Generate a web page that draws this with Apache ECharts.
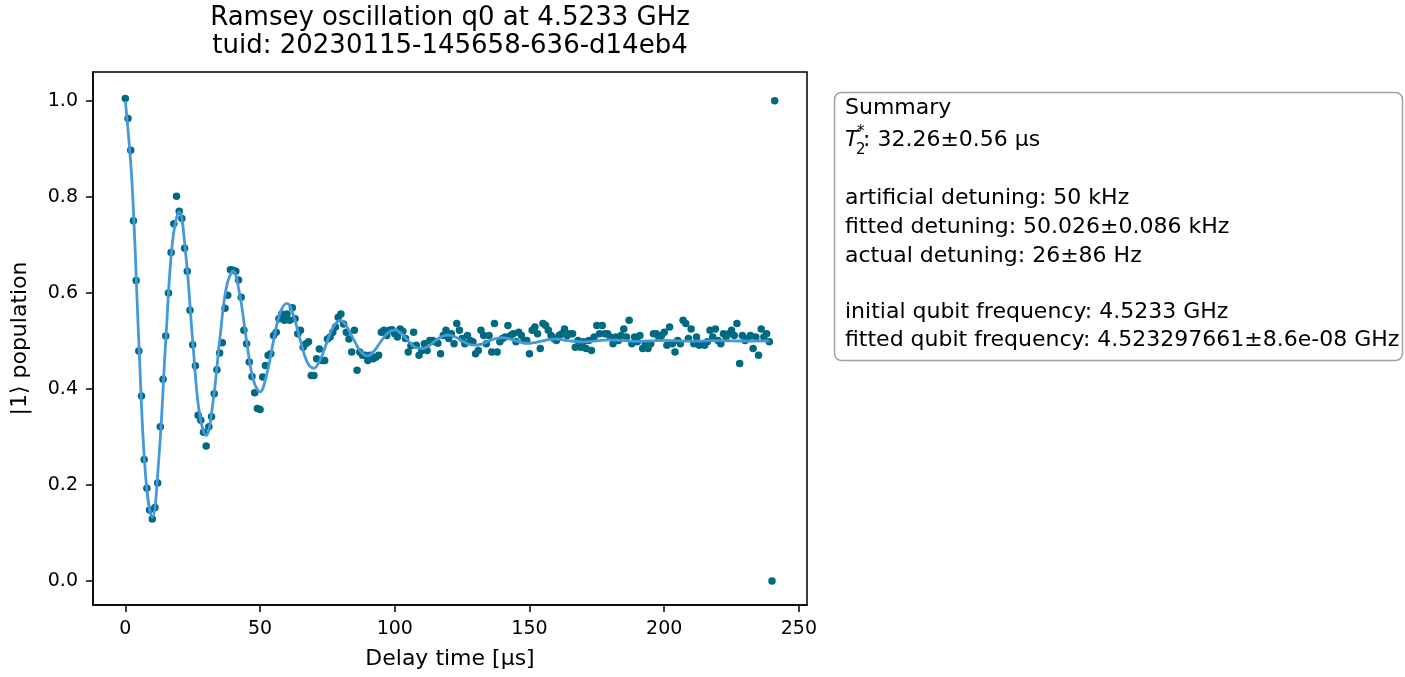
<!DOCTYPE html>
<html>
<head>
<meta charset="utf-8">
<script src="https://cdn.jsdelivr.net/npm/echarts@6/dist/echarts.min.js"></script>
<style>
html,body{margin:0;padding:0;background:#fff;}
#chart{width:1405px;height:677px;}
</style>
</head>
<body>
<div id="chart"></div>
<script>
// ---- data ----
const population = [
1.005,0.963,0.897,0.750,0.626,0.479,0.385,0.253,0.193,0.148,
0.129,0.153,0.204,0.321,0.420,0.510,0.600,0.684,0.744,0.801,
0.770,0.755,0.693,0.645,0.564,0.492,0.448,0.345,0.335,0.310,
0.281,0.321,0.342,0.390,0.440,0.475,0.496,0.568,0.595,0.648,
0.647,0.645,0.627,0.591,0.522,0.494,0.456,0.426,0.392,0.359,
0.357,0.425,0.449,0.470,0.473,0.511,0.518,0.546,0.556,0.543,
0.556,0.543,0.569,0.546,0.515,0.522,0.487,0.494,0.498,0.428,
0.428,0.463,0.483,0.459,0.459,0.504,0.508,0.518,0.529,0.549,
0.556,0.535,0.518,0.504,0.477,0.522,0.439,0.477,0.470,0.470,
0.459,0.470,0.463,0.466,0.470,0.518,0.522,0.511,0.522,0.523,
0.515,0.508,0.525,0.520,0.505,0.477,0.490,0.518,0.491,0.470,
0.480,0.494,0.480,0.501,0.501,0.498,0.495,0.473,0.511,0.522,
0.505,0.515,0.494,0.536,0.522,0.505,0.494,0.511,0.501,0.498,
0.473,0.480,0.522,0.511,0.494,0.511,0.477,0.536,0.477,0.498,
0.505,0.508,0.532,0.511,0.515,0.498,0.518,0.511,0.501,0.501,
0.473,0.522,0.529,0.515,0.484,0.536,0.532,0.522,0.511,0.505,
0.501,0.511,0.515,0.525,0.511,0.515,0.515,0.487,0.501,0.487,
0.498,0.484,0.501,0.480,0.508,0.532,0.515,0.532,0.515,0.515,
0.508,0.494,0.508,0.501,0.511,0.525,0.508,0.543,0.494,0.508,
0.498,0.511,0.484,0.494,0.484,0.494,0.515,0.515,0.508,0.511,
0.518,0.491,0.529,0.494,0.477,0.501,0.494,0.543,0.536,0.505,
0.525,0.494,0.508,0.491,0.494,0.491,0.498,0.522,0.508,0.525,
0.501,0.494,0.515,0.508,0.515,0.522,0.511,0.536,0.453,0.511,
0.501,0.505,0.511,0.484,0.508,0.470,0.525,0.508,0.515,0.498
];
const delayStart = 0;      // µs
const delayStep = 1;       // µs
const calTimes = [240, 241];
const calValues = [0.0, 1.0];

const fitTimes = [0,2.5,5,7.5,10,12.5,15,17.5,20,22.5,25,27.5,30,32.5,35,37.5,40,42.5,45,47.5,
  50,52.5,55,57.5,60,62.5,65,67.5,70,72.5,75,77.5,80,82.5,85,87.5,90,92.5,95,97.5,
  100,102.5,105,107.5,110,112.5,115,117.5,120,122.5,125,127.5,130,132.5,135,137.5,140,142.5,145,147.5,
  150,152.5,155,157.5,160,162.5,165,170,180,190,200,210,220,230,239];
const fitValues = [1.000,0.827,0.500,0.220,0.133,0.260,0.500,0.706,0.769,0.676,0.500,0.349,0.303,0.371,0.500,0.611,0.645,0.595,0.500,0.419,
  0.394,0.431,0.500,0.559,0.578,0.551,0.500,0.456,0.443,0.463,0.500,0.532,0.542,0.527,0.500,0.477,0.469,0.480,0.500,0.517,
  0.523,0.515,0.500,0.487,0.484,0.489,0.500,0.509,0.512,0.508,0.500,0.493,0.491,0.494,0.500,0.505,0.507,0.504,0.500,0.496,
  0.495,0.497,0.500,0.503,0.504,0.502,0.500,0.498,0.502,0.499,0.501,0.4995,0.5005,0.4998,0.500];

const xTicks = [0, 50, 100, 150, 200, 250];
const yTicks = [0.0, 0.2, 0.4, 0.6, 0.8, 1.0];

const titleLines = ['Ramsey oscillation q0 at 4.5233 GHz', 'tuid: 20230115-145658-636-d14eb4'];
const summaryLines = [
  'Summary',
  '',
  '',
  'artificial detuning: 50 kHz',
  'fitted detuning: 50.026±0.086 kHz',
  'actual detuning: 26±86 Hz',
  '',
  'initial qubit frequency: 4.5233 GHz',
  'fitted qubit frequency: 4.523297661±8.6e-08 GHz'
];
const t2Text = ': 32.26±0.56 µs';

// ---- build ----
const FONT = '"DejaVu Sans", sans-serif';
const ptColor = '#006a80';
const fitColor = '#4598da';

const scatterData = population.map((v, i) => [delayStart + i * delayStep, v]);
const calData = calTimes.map((t, i) => [t, calValues[i]]);
const fitData = fitTimes.map((t, i) => [t, fitValues[i]]);

const summaryY = [108, 140, 169, 198, 227, 256, 284, 312, 340];
const graphics = [];
titleLines.forEach((s, i) => {
  graphics.push({type:'text', x:450, y: 18 + i*28, style:{text:s, fontSize:26, fontFamily:FONT, fill:'#000', align:'center', verticalAlign:'middle'}});
});
graphics.push({type:'rect', shape:{x:834.5, y:92.5, width:568, height:268, r:7}, style:{fill:'#fff', stroke:'#a0a0a0', lineWidth:1.5}});
summaryLines.forEach((s, i) => {
  if (!s) return;
  graphics.push({type:'text', x:845, y:summaryY[i], style:{text:s, fontSize:22, fontFamily:FONT, fill:'#000', align:'left', verticalAlign:'middle'}});
});
graphics.push({type:'text', x:845, y:140, style:{text:'T', fontSize:22, fontStyle:'italic', fontFamily:FONT, fill:'#000', align:'left', verticalAlign:'middle'}});
graphics.push({type:'text', x:856, y:150, style:{text:'2', fontSize:15, fontFamily:FONT, fill:'#000', align:'left', verticalAlign:'middle'}});
graphics.push({type:'text', x:857, y:132, style:{text:'*', fontSize:15, fontFamily:FONT, fill:'#000', align:'left', verticalAlign:'middle'}});
graphics.push({type:'text', x:863, y:140, style:{text:t2Text, fontSize:22, fontFamily:FONT, fill:'#000', align:'left', verticalAlign:'middle'}});

const chart = echarts.init(document.getElementById('chart'), null, {renderer:'canvas'});
chart.setOption({
  animation: false,
  backgroundColor: '#fff',
  grid: {left:93, top:72, right:598, bottom:72, show:true, borderColor:'#000', borderWidth:1.5, backgroundColor:'transparent'},
  xAxis: {
    type:'value', min:-12, max:253,
    name:'Delay time [µs]', nameLocation:'middle', nameGap:43,
    nameTextStyle:{fontSize:22, fontFamily:FONT, color:'#000'},
    axisLine:{show:true, onZero:false, lineStyle:{color:'#000', width:1.5}},
    axisTick:{show:true, length:7, inside:false, customValues:xTicks, lineStyle:{color:'#000', width:1.5}},
    axisLabel:{show:true, margin:15, customValues:xTicks, fontSize:19, fontFamily:FONT, color:'#000', formatter:v=>String(v)},
    splitLine:{show:false}
  },
  yAxis: {
    type:'value', min:-0.05, max:1.06,
    name:'|1⟩ population', nameLocation:'middle', nameGap:62, nameRotate:90,
    nameTextStyle:{fontSize:22, fontFamily:FONT, color:'#000'},
    axisLine:{show:true, onZero:false, lineStyle:{color:'#000', width:1.5}},
    axisTick:{show:true, length:7, inside:false, customValues:yTicks, lineStyle:{color:'#000', width:1.5}},
    axisLabel:{show:true, margin:15, customValues:yTicks, fontSize:19, fontFamily:FONT, color:'#000', formatter:v=>v.toFixed(1)},
    splitLine:{show:false}
  },
  series: [
    {type:'scatter', data:scatterData, symbol:'circle', symbolSize:7.5, itemStyle:{color:ptColor, opacity:1}, z:2},
    {type:'scatter', data:calData, symbol:'circle', symbolSize:7.5, itemStyle:{color:ptColor, opacity:1}, z:2},
    {type:'line', data:fitData, smooth:0.4, showSymbol:false, symbol:'none', lineStyle:{color:fitColor, width:2.8}, z:3}
  ],
  graphic: graphics
});
</script>
</body>
</html>
